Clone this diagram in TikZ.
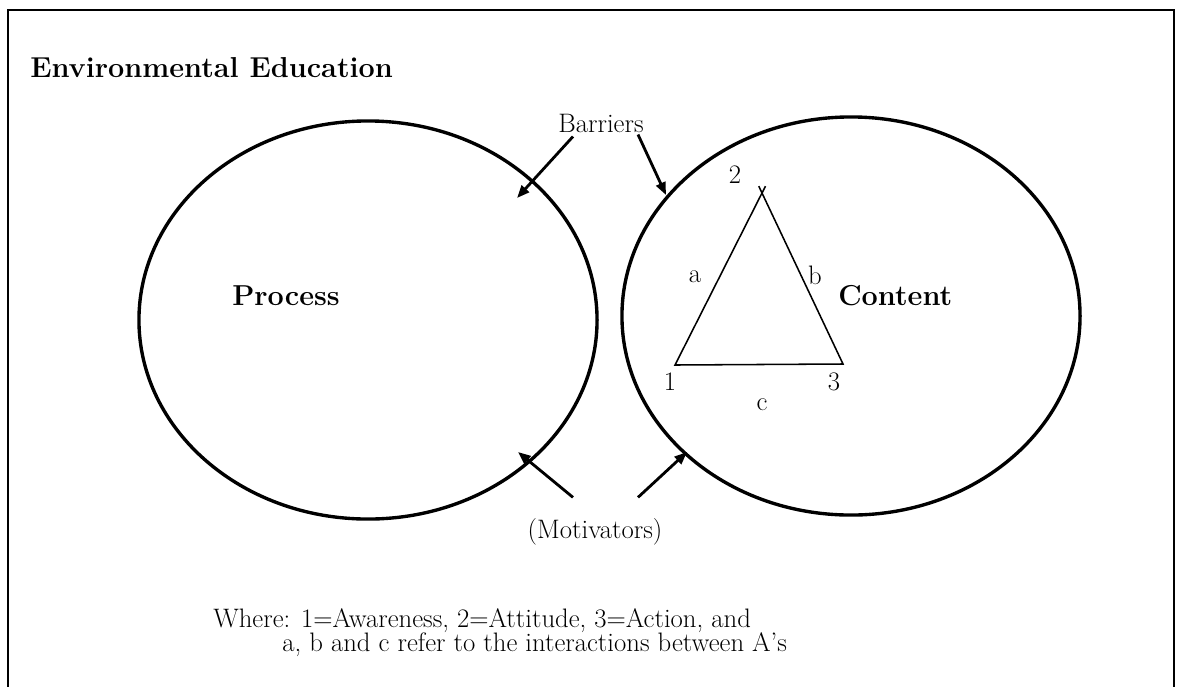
\documentclass[tikz,border=0pt]{standalone}
\usepackage{tikz}
\usetikzlibrary{arrows.meta,positioning,calc,shapes.geometric}

\begin{document}
\begin{tikzpicture}[x=0.025cm, y=-0.025cm, font=\fontsize{19}{22}\selectfont]
  \tikzstyle{circ}=[draw, ellipse, line width=2.4pt, minimum width=11.45cm, minimum height=9.95cm]
  \tikzstyle{lbl}=[inner sep=0pt]
  \tikzstyle{big}=[inner sep=0pt, font=\fontsize{20.5}{24}\selectfont\bfseries]
  \tikzstyle{pointer}=[line width=2pt, -{Triangle[length=9pt, width=7pt]}]
  \useasboundingbox (0,0) rectangle (1177,686);
  \draw[line width=1.6pt] (8,690) -- (8,10) -- (1174,10) -- (1174,690);
  \node[big, anchor=base west] (title) at (30,77) {Environmental Education};
  % the two circles
  \node[circ] (proc) at (368,320) {};
  \node[circ] (cont) at (851,316) {};
  \node[big, anchor=base west] (proclbl) at (232,305) {Process};
  \node[big, anchor=base west] (contlbl) at (838,305) {Content};
  % triangle of the three A's
  \coordinate (v1) at (675,365);
  \coordinate (v2) at (762,193);
  \coordinate (v3) at (843,364);
  \draw[line width=1.1pt] ($(v1)!1.04!(v2)$) -- (v1) -- (v3) -- ($(v3)!1.04!(v2)$);
  \node[lbl] (n1) at (670,382) {1};
  \node[lbl] (n2) at (735,175) {2};
  \node[lbl] (n3) at (834,382) {3};
  \node[lbl] (la) at (695,277) {a};
  \node[lbl] (lb) at (815,275) {b};
  \node[lbl] (lc) at (762,405) {c};
  % barriers and motivators
  \node[lbl] (bar) at (601,123) {Barriers};
  \node[lbl] (mot) at (595,532) {(Motivators)};
  \coordinate (bartipL) at (517,198);
  \coordinate (bartipR) at (666,195);
  \coordinate (mottipL) at (518,452);
  \coordinate (mottipR) at (687,452);
  \draw[pointer] ($(bar.south)+(-28,4)$) -- (bartipL);
  \draw[pointer] ($(bar.south)+(37,2)$) -- (bartipR);
  \draw[pointer] ($(mot.north)+(-22,-21)$) -- (mottipL);
  \draw[pointer] ($(mot.north)+(43,-21)$) -- (mottipR);
  % legend
  \node[lbl, anchor=base west] (where1) at (213,627) {Where: 1=Awareness, 2=Attitude, 3=Action, and};
  \node[lbl, anchor=base west] (where2) at (282,651) {a, b and c refer to the interactions between A's};
\end{tikzpicture}
\end{document}
